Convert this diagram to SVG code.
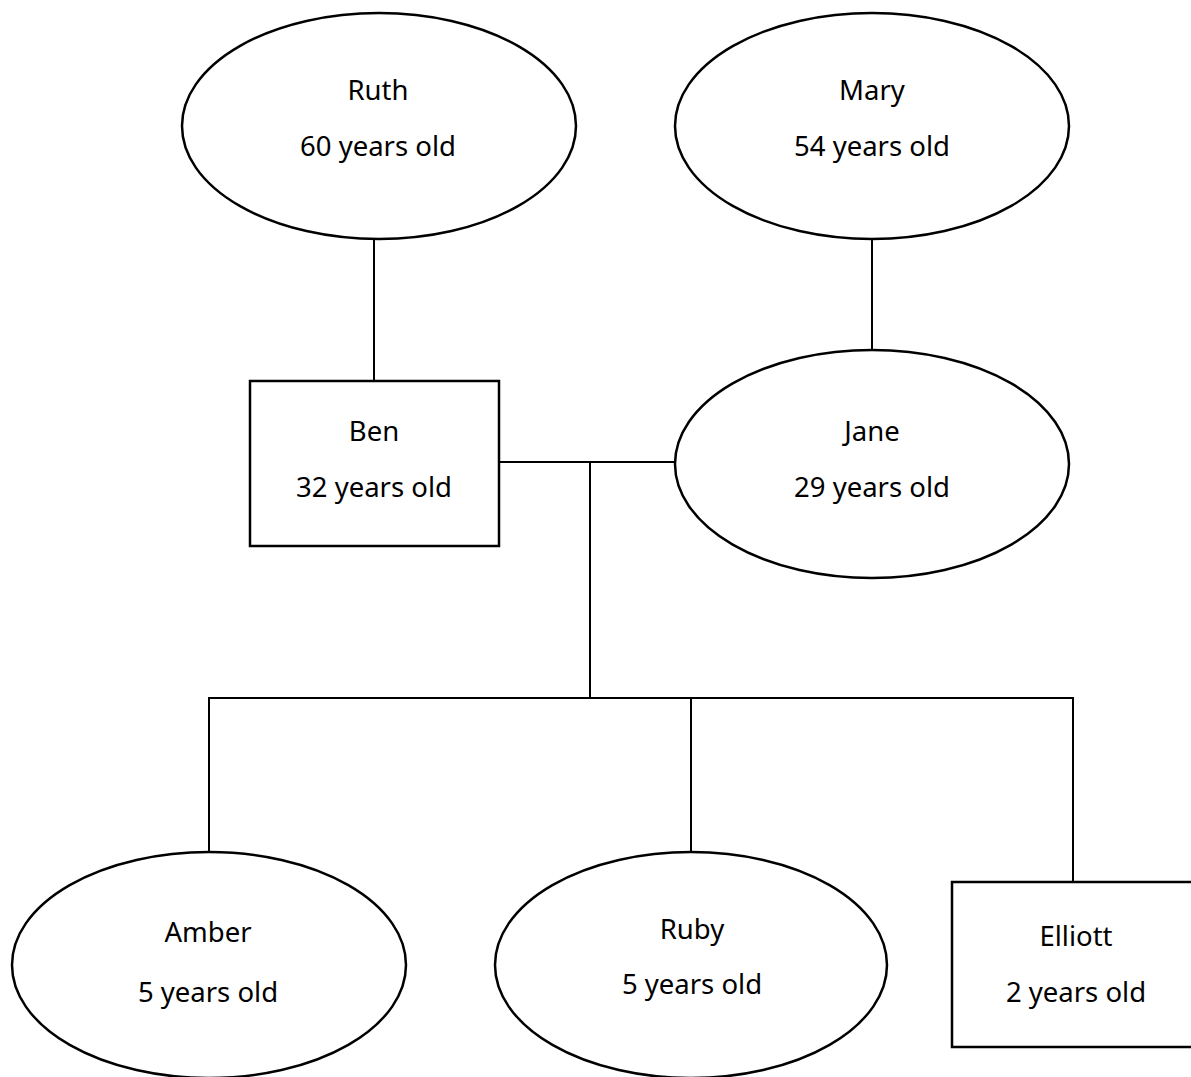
<svg xmlns="http://www.w3.org/2000/svg" width="1191" height="1077" viewBox="0 0 1191 1077">
<style>
.n{fill:#fff;stroke:#000;stroke-width:2.5}
.c line{stroke:#000;stroke-width:2}
text{font-family:"Noto Sans","Open Sans",sans-serif;font-size:27.5px;fill:#000;text-anchor:middle}
</style>
<rect width="1191" height="1077" fill="#fff"/>
<g id="connectors" class="c">
<line x1="374" y1="239" x2="374" y2="381"/>
<line x1="872" y1="239" x2="872" y2="350"/>
<line x1="499" y1="462" x2="677" y2="462"/>
<line x1="590" y1="462" x2="590" y2="698"/>
<line x1="208" y1="698" x2="1074" y2="698"/>
<line x1="209" y1="697" x2="209" y2="852"/>
<line x1="691" y1="697" x2="691" y2="852"/>
<line x1="1073" y1="697" x2="1073" y2="882"/>
</g>
<g id="ruth"><ellipse class="n" cx="379" cy="126" rx="197" ry="113"/><text x="378" y="100">Ruth</text><text x="378" y="156">60 years old</text></g>
<g id="mary"><ellipse class="n" cx="872" cy="126" rx="197" ry="113"/><text x="872" y="100">Mary</text><text x="872" y="156">54 years old</text></g>
<g id="ben"><rect class="n" x="250" y="381" width="249" height="165"/><text x="374" y="441">Ben</text><text x="374" y="497">32 years old</text></g>
<g id="jane"><ellipse class="n" cx="872" cy="464" rx="197" ry="114"/><text x="872" y="441">Jane</text><text x="872" y="497">29 years old</text></g>
<g id="amber"><ellipse class="n" cx="209" cy="965" rx="197" ry="113"/><text x="208" y="942">Amber</text><text x="208" y="1002">5 years old</text></g>
<g id="ruby"><ellipse class="n" cx="691" cy="965" rx="196" ry="113"/><text x="692" y="939">Ruby</text><text x="692" y="994">5 years old</text></g>
<g id="elliott"><rect class="n" x="952" y="882" width="250" height="165"/><text x="1076" y="946">Elliott</text><text x="1076" y="1002">2 years old</text></g>
</svg>
